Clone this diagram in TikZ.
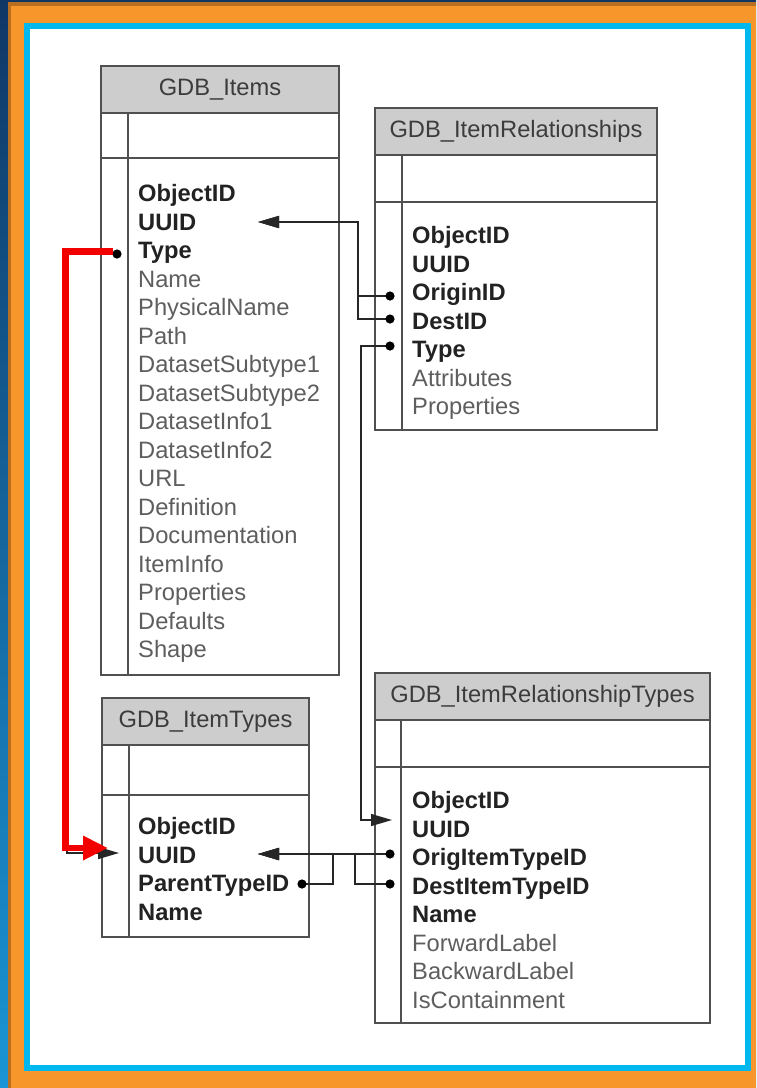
\documentclass[tikz,border=0pt]{standalone}
\usepackage{fontspec}
\setmainfont{Liberation Sans}
\usetikzlibrary{arrows.meta}
\definecolor{navyA}{HTML}{0F3766}
\definecolor{navyB}{HTML}{1A95D5}
\definecolor{brownE}{HTML}{B96F22}
\definecolor{orangeF}{HTML}{F7962A}
\definecolor{cyanB}{HTML}{00B8EE}
\definecolor{lineC}{HTML}{505050}
\definecolor{hdrF}{HTML}{CDCDCD}
\definecolor{hdrT}{HTML}{3C3C3C}
\definecolor{keyT}{HTML}{222222}
\definecolor{fldT}{HTML}{5E5E5E}
\definecolor{redL}{HTML}{F20000}
\newcommand{\tblfont}{\fontsize{23.7}{28}\selectfont}
\begin{document}
\begin{tikzpicture}[x=1pt,y=-1pt,
  tbox/.style={draw=lineC, line width=1.6pt, inner sep=0pt, outer sep=0pt, anchor=north west},
  thead/.style={tbox, fill=hdrF, text=hdrT, font=\tblfont},
  tline/.style={draw=lineC, line width=1.6pt},
  kf/.style={anchor=base west, inner sep=0pt, text=keyT, font=\tblfont\bfseries},
  ff/.style={anchor=base west, inner sep=0pt, text=fldT, font=\tblfont},
  fk/.style={draw=black!85, line width=1.5pt},
  tip/.style={-{Triangle[length=21pt,width=12pt]}},
  redfk/.style={draw=redL, line width=6.5pt, line join=miter, -{Triangle[length=25pt,width=23pt]}}]
\useasboundingbox (0,0) rectangle (756,1088);
% frame
\shade[top color=navyA, bottom color=navyB] (0,0) rectangle (756,1088);
\fill[brownE] (8,2) rectangle (756,1088);
\fill[orangeF] (11,6) rectangle (756,1088);
\fill[cyanB] (24,23) rectangle (751,1071);
\fill[white] (30,29) rectangle (745,1065);

% ---------- GDB_Items ----------
\node[tbox, minimum width=238, minimum height=609] (items) at (101,66) {};
\node[thead, minimum width=238, minimum height=47] (items-h) at (101,66) {GDB\_Items};
\draw[tline] (101,158) -- (339,158);
\draw[tline] (128,113) -- (128,675);
\foreach [count=\i from 0] \n/\st in {ObjectID/kf, UUID/kf, Type/kf, Name/ff, PhysicalName/ff, Path/ff,
  DatasetSubtype1/ff, DatasetSubtype2/ff, DatasetInfo1/ff, DatasetInfo2/ff, URL/ff, Definition/ff,
  Documentation/ff, ItemInfo/ff, Properties/ff, Defaults/ff, Shape/ff}
  \node[\st] (items-\i) at (138,{201.5+28.5*\i}) {\n};

% ---------- GDB_ItemRelationships ----------
\node[tbox, minimum width=282, minimum height=322] (rel) at (375,108) {};
\node[thead, minimum width=282, minimum height=47] (rel-h) at (375,108) {GDB\_ItemRelationships};
\draw[tline] (375,202) -- (657,202);
\draw[tline] (402,155) -- (402,430);
\foreach [count=\i from 0] \n/\st in {ObjectID/kf, UUID/kf, OriginID/kf, DestID/kf, Type/kf, Attributes/ff, Properties/ff}
  \node[\st] (rel-\i) at (412,{243.5+28.5*\i}) {\n};

% ---------- GDB_ItemTypes ----------
\node[tbox, minimum width=207, minimum height=239] (types) at (102,698) {};
\node[thead, minimum width=207, minimum height=47] (types-h) at (102,698) {GDB\_ItemTypes};
\draw[tline] (102,795) -- (309,795);
\draw[tline] (129,745) -- (129,937);
\foreach [count=\i from 0] \n in {ObjectID, UUID, ParentTypeID, Name}
  \node[kf] (types-\i) at (138,{834.5+28.5*\i}) {\n};

% ---------- GDB_ItemRelationshipTypes ----------
\node[tbox, minimum width=335, minimum height=350] (rtypes) at (375,673) {};
\node[thead, minimum width=335, minimum height=47] (rtypes-h) at (375,673) {GDB\_ItemRelationshipTypes};
\draw[tline] (375,767) -- (710,767);
\draw[tline] (401,720) -- (401,1023);
\foreach [count=\i from 0] \n/\st in {ObjectID/kf, UUID/kf, OrigItemTypeID/kf, DestItemTypeID/kf, Name/kf,
  ForwardLabel/ff, BackwardLabel/ff, IsContainment/ff}
  \node[\st] (rtypes-\i) at (412,{808.5+28.5*\i}) {\n};

% ---------- connector end points ----------
\coordinate (items-uuid-in) at (258,222);
\coordinate (items-type-out) at (117,254);
\coordinate (rel-origin-out) at (390,296);
\coordinate (rel-dest-out) at (390,319);
\coordinate (rel-type-out) at (390,346);
\coordinate (rtypes-uuid-in) at (392,820);
\coordinate (rtypes-orig-out) at (390,854);
\coordinate (rtypes-dest-out) at (390,884);
\coordinate (types-uuid-in) at (258,854);
\coordinate (types-parent-out) at (302,884);
\coordinate (types-uuid-left) at (119,853);
\coordinate (red-start) at (113,251.5);
\coordinate (red-end) at (108,848);

% ---------- connectors ----------
\draw[fk, tip] (rel-origin-out) -- ++(-32,0) |- (items-uuid-in);
\draw[fk, tip] (rel-dest-out) -- ++(-32,0) |- (items-uuid-in);
\draw[fk, tip] (rel-type-out) -- ++(-29,0) |- (rtypes-uuid-in);
\draw[fk, tip] (rtypes-orig-out) -- (types-uuid-in);
\draw[fk, tip] (rtypes-dest-out) -- ++(-35,0) |- (types-uuid-in);
\draw[fk, tip] (types-parent-out) -- ++(31,0) |- (types-uuid-in);
\draw[fk, tip] (items-type-out) -- ++(-50,0) |- (types-uuid-left);
\foreach \c in {rel-origin-out, rel-dest-out, rel-type-out, rtypes-orig-out, rtypes-dest-out, types-parent-out, items-type-out}
  \fill (\c) circle[radius=4.6pt];
% highlighted (red) relation
\draw[redfk] (red-start) -- ++(-47.5,0) |- (red-end);
\end{tikzpicture}
\end{document}
